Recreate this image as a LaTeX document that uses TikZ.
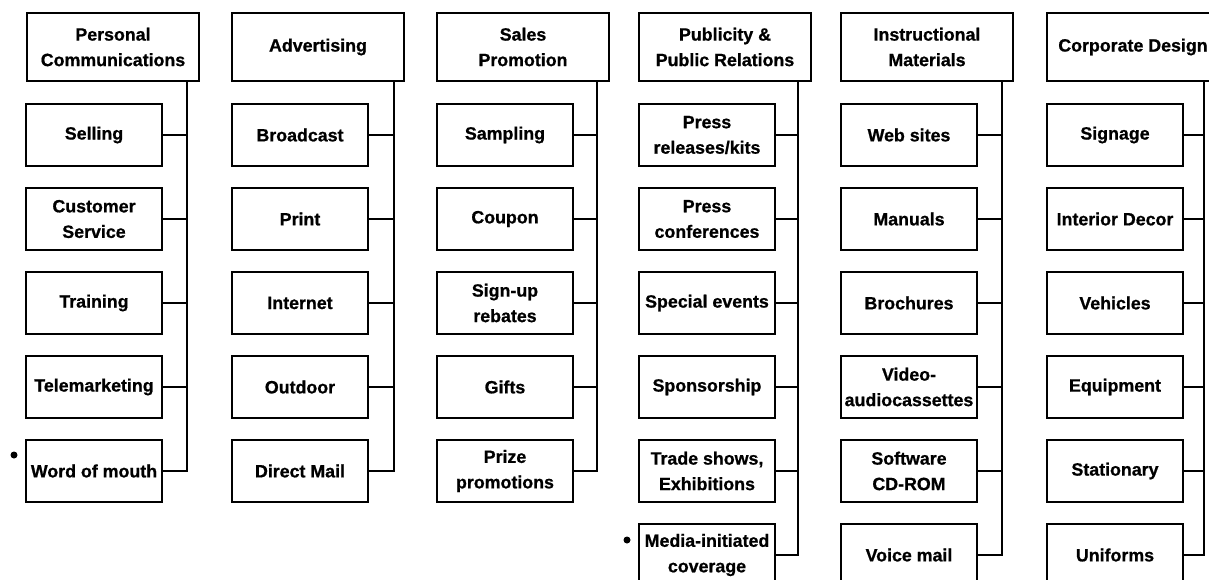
\documentclass[tikz,border=0pt]{standalone}
\usepackage{fontspec}
\setmainfont{Liberation Sans}[BoldFeatures={FakeBold=0.8}]
\begin{document}
\begin{tikzpicture}[x=1pt,y=-1pt,
  headbox/.style={draw=black,line width=2pt,anchor=north west,minimum width=172pt,minimum height=68pt,inner sep=0pt,align=center,font=\bfseries\fontsize{17.8}{25.5}\selectfont},
  itembox/.style={draw=black,line width=2pt,anchor=north west,minimum width=136pt,minimum height=62pt,inner sep=0pt,align=center,font=\bfseries\fontsize{17.8}{25.5}\selectfont},
  link/.style={draw=black,line width=1.8pt},
  dotmark/.style={fill=black,circle,inner sep=0pt,minimum size=7pt}]
\useasboundingbox (0,0) rectangle (1209,580);
\clip (0,0) rectangle (1209,580);
\fill[white] (0,0) rectangle (1209,580);
% column 1
\node[headbox] (h1) at (26,12) {Personal\\Communications};
\node[itembox] (a1) at (25,103) {Selling};
\node[itembox] (a2) at (25,187) {Customer\\Service};
\node[itembox] (a3) at (25,271) {Training};
\node[itembox] (a4) at (25,355) {Telemarketing};
\node[itembox] (a5) at (25,439) {Word of mouth};
\coordinate (t1) at (187,0);
\draw[link] (h1.south -| t1) |- (a5.east);
\foreach \n in {a1,a2,a3,a4} \draw[link] (\n.east) -- (\n.east -| t1);
\node[dotmark] (d1) at (14,455) {};
% column 2
\node[headbox] (h2) at (231,12) {Advertising};
\node[itembox] (b1) at (231,103) {Broadcast};
\node[itembox] (b2) at (231,187) {Print};
\node[itembox] (b3) at (231,271) {Internet};
\node[itembox] (b4) at (231,355) {Outdoor};
\node[itembox] (b5) at (231,439) {Direct Mail};
\coordinate (t2) at (394,0);
\draw[link] (h2.south -| t2) |- (b5.east);
\foreach \n in {b1,b2,b3,b4} \draw[link] (\n.east) -- (\n.east -| t2);
% column 3
\node[headbox] (h3) at (436,12) {Sales\\Promotion};
\node[itembox] (c1) at (436,103) {Sampling};
\node[itembox] (c2) at (436,187) {Coupon};
\node[itembox] (c3) at (436,271) {Sign-up\\rebates};
\node[itembox] (c4) at (436,355) {Gifts};
\node[itembox] (c5) at (436,439) {Prize\\promotions};
\coordinate (t3) at (597,0);
\draw[link] (h3.south -| t3) |- (c5.east);
\foreach \n in {c1,c2,c3,c4} \draw[link] (\n.east) -- (\n.east -| t3);
% column 4
\node[headbox] (h4) at (638,12) {Publicity \&\\Public Relations};
\node[itembox] (e1) at (638,103) {Press\\releases/kits};
\node[itembox] (e2) at (638,187) {Press\\conferences};
\node[itembox] (e3) at (638,271) {Special events};
\node[itembox] (e4) at (638,355) {Sponsorship};
\node[itembox] (e5) at (638,439) {Trade shows,\\Exhibitions};
\node[itembox] (e6) at (638,523) {Media-initiated\\coverage};
\coordinate (t4) at (798,0);
\draw[link] (h4.south -| t4) |- (e6.east);
\foreach \n in {e1,e2,e3,e4,e5} \draw[link] (\n.east) -- (\n.east -| t4);
\node[dotmark] (d2) at (627,540) {};
% column 5
\node[headbox] (h5) at (840,12) {Instructional\\Materials};
\node[itembox] (f1) at (840,103) {Web sites};
\node[itembox] (f2) at (840,187) {Manuals};
\node[itembox] (f3) at (840,271) {Brochures};
\node[itembox] (f4) at (840,355) {Video-\\audiocassettes};
\node[itembox] (f5) at (840,439) {Software\\CD-ROM};
\node[itembox] (f6) at (840,523) {Voice mail};
\coordinate (t5) at (1002,0);
\draw[link] (h5.south -| t5) |- (f6.east);
\foreach \n in {f1,f2,f3,f4,f5} \draw[link] (\n.east) -- (\n.east -| t5);
% column 6
\node[headbox] (h6) at (1046,12) {Corporate Design};
\node[itembox] (g1) at (1046,103) {Signage};
\node[itembox] (g2) at (1046,187) {Interior Decor};
\node[itembox] (g3) at (1046,271) {Vehicles};
\node[itembox] (g4) at (1046,355) {Equipment};
\node[itembox] (g5) at (1046,439) {Stationary};
\node[itembox] (g6) at (1046,523) {Uniforms};
\coordinate (t6) at (1204,0);
\draw[link] (h6.south -| t6) |- (g6.east);
\foreach \n in {g1,g2,g3,g4,g5} \draw[link] (\n.east) -- (\n.east -| t6);
\end{tikzpicture}
\end{document}
